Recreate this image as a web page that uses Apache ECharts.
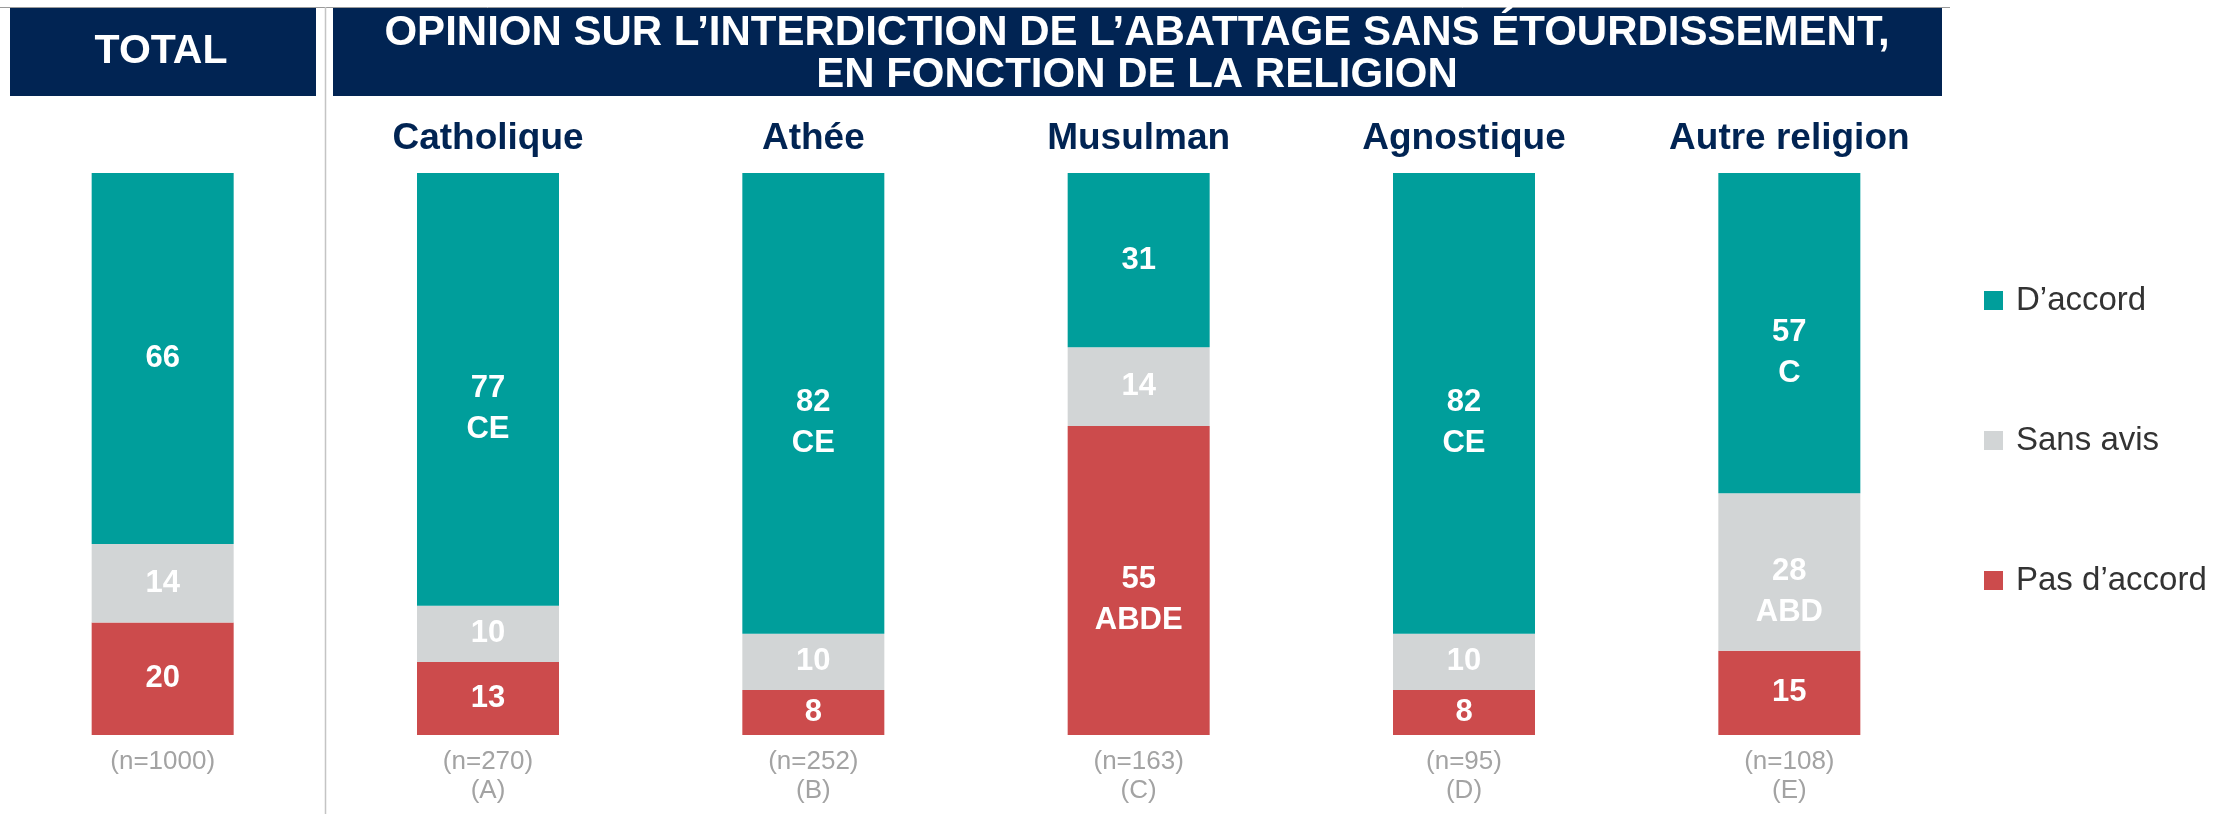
<!DOCTYPE html>
<html>
<head>
<meta charset="utf-8">
<script src="https://cdn.jsdelivr.net/npm/echarts@6/dist/echarts.min.js"></script>
<style>
  html, body { margin: 0; padding: 0; background: #fff; }
  #chart { width: 2220px; height: 814px; }
</style>
</head>
<body>
<div id="chart"></div>
<script>
// groups (first one is the total column)
const groups = ['TOTAL', 'Catholique', 'Athée', 'Musulman', 'Agnostique', 'Autre religion'];
const sampleLabels = ['(n=1000)', '(n=270)\n(A)', '(n=252)\n(B)', '(n=163)\n(C)', '(n=95)\n(D)', '(n=108)\n(E)'];

const accord = [66, 77, 82, 31, 82, 57];
const sansAvis = [14, 10, 10, 14, 10, 28];
const pasAccord = [20, 13, 8, 55, 8, 15];

// significance letters shown under the value
const accordSig = ['', 'CE', 'CE', '', 'CE', 'C'];
const sansAvisSig = ['', '', '', '', '', 'ABD'];
const pasAccordSig = ['', '', '', 'ABDE', '', ''];

const NAVY = '#012453';
const FONT = '"Liberation Sans", Arial, sans-serif';

const chart = echarts.init(document.getElementById('chart'));

function buildData(values, sig) {
    return values.map((v, i) => ({
        value: v,
        sig: sig[i],
        label: sig[i] ? { offset: [0, 20] } : {}
    }));
}

function makeSeries(name, color, values, sig) {
    return {
        name: name,
        type: 'bar',
        stack: 'tot',
        barWidth: 142,
        xAxisIndex: 0,
        itemStyle: { color: color },
        label: {
            show: true,
            position: 'inside',
            color: '#fff',
            fontFamily: FONT,
            fontWeight: 'bold',
            fontSize: 31,
            lineHeight: 41,
            formatter: (p) => p.data.sig ? p.value + '\n' + p.data.sig : '' + p.value
        },
        data: buildData(values, sig)
    };
}

const option = {
    animation: false,
    backgroundColor: '#fff',
    grid: { left: -2, width: 1954, top: 173, height: 562 },
    xAxis: [
        {
            type: 'category',
            data: sampleLabels,
            position: 'bottom',
            axisLine: { show: false },
            axisTick: { show: false },
            axisLabel: {
                color: '#a3a3a3',
                fontFamily: FONT,
                fontSize: 26,
                lineHeight: 29,
                margin: 12
            }
        },
        {
            type: 'category',
            data: groups.map((g, i) => i === 0 ? '' : g),
            position: 'top',
            axisLine: { show: false },
            axisTick: { show: false },
            axisLabel: {
                color: NAVY,
                fontFamily: FONT,
                fontWeight: 'bold',
                fontSize: 37,
                margin: 16
            }
        }
    ],
    yAxis: { type: 'value', min: 0, max: 100, show: false },
    legend: {
        orient: 'vertical',
        left: 1979,
        top: 279,
        icon: 'rect',
        itemWidth: 19,
        itemHeight: 19,
        itemGap: 107,
        data: ["D’accord", 'Sans avis', "Pas d’accord"],
        textStyle: {
            color: '#333',
            fontFamily: FONT,
            fontSize: 33,
            lineHeight: 33,
            padding: [0, 0, 0, 8]
        }
    },
    graphic: [
        { type: 'line', shape: { x1: 0, y1: 7.5, x2: 1950, y2: 7.5 }, style: { stroke: '#9a9a9a', lineWidth: 1 } },
        { type: 'line', shape: { x1: 325.5, y1: 7, x2: 325.5, y2: 814 }, style: { stroke: '#c4c4c4', lineWidth: 1.5 } },
        { type: 'rect', shape: { x: 10, y: 8, width: 306, height: 88 }, style: { fill: NAVY } },
        { type: 'rect', shape: { x: 333, y: 8, width: 1609, height: 88 }, style: { fill: NAVY } },
        {
            type: 'text', x: 161, y: 52,
            style: { text: 'TOTAL', fill: '#fff', font: 'bold 41px ' + FONT, align: 'center', verticalAlign: 'middle' }
        },
        {
            type: 'text', x: 1137, y: 33,
            style: { text: 'OPINION SUR L’INTERDICTION DE L’ABATTAGE SANS ÉTOURDISSEMENT,', fill: '#fff', font: 'bold 42px ' + FONT, align: 'center', verticalAlign: 'middle' }
        },
        {
            type: 'text', x: 1137, y: 75,
            style: { text: 'EN FONCTION DE LA RELIGION', fill: '#fff', font: 'bold 42px ' + FONT, align: 'center', verticalAlign: 'middle' }
        }
    ],
    series: [
        makeSeries("Pas d’accord", '#cc4b4c', pasAccord, pasAccordSig),
        makeSeries('Sans avis', '#d2d5d6', sansAvis, sansAvisSig),
        makeSeries("D’accord", '#009e9b', accord, accordSig)
    ]
};

chart.setOption(option);
</script>
</body>
</html>
